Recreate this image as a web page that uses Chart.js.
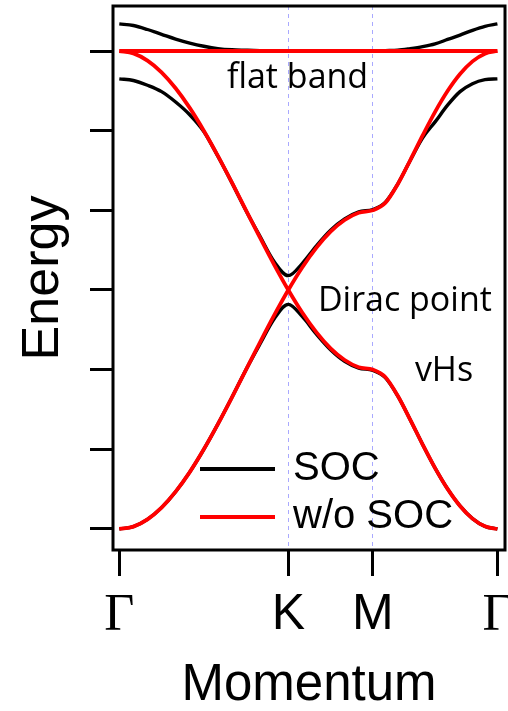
<!DOCTYPE html>
<html>
<head>
<meta charset="utf-8">
<script src="https://cdn.jsdelivr.net/npm/chart.js@4/dist/chart.umd.min.js"></script>
<style>
  html, body { margin: 0; padding: 0; background: #fff; }
  canvas { display: block; }
</style>
</head>
<body>
<canvas id="bands" width="508" height="711"></canvas>
<script>
// momentum along the path G-K-M-G (K at 1, M at 1.5)
const kPath = [
  0, 0.0833, 0.1667, 0.25, 0.3333, 0.4167, 0.5, 0.5833, 0.6667, 0.75, 0.8333, 0.9167, 1,
  1.0833, 1.1667, 1.25, 1.3333, 1.4167, 1.5,
  1.5737, 1.6475, 1.7212, 1.7949, 1.8686, 1.9424, 2.0161, 2.0898, 2.1635, 2.2373
];
const kTicks = [0, 1, 1.5, 2.2373];
const kLabels = ['Γ', 'K', 'M', 'Γ'];
const energyTicks = [-4, -3, -2, -1, 0, 1, 2];

// bands without SOC (two crossing branches + flat band)
const bandA = [
  2.000, 1.970, 1.879, 1.732, 1.532, 1.286, 1.000, 0.684, 0.347, 0.000, -0.347, -0.684, -1.000,
  -1.286, -1.532, -1.732, -1.879, -1.970, -2.000,
  -2.093, -2.328, -2.628, -2.940, -3.236, -3.497, -3.711, -3.870, -3.967, -4.000
];
const bandB = [
  -4.000, -3.970, -3.879, -3.732, -3.532, -3.286, -3.000, -2.684, -2.347, -2.000, -1.653, -1.316, -1.000,
  -0.714, -0.468, -0.268, -0.121, -0.030, 0.000,
  0.093, 0.328, 0.628, 0.940, 1.236, 1.497, 1.711, 1.870, 1.967, 2.000
];
const flatK = [0, 2.2373];
const flatBand = [2, 2];

// bands with SOC
const socTop = [
  2.34, 2.32, 2.27, 2.21, 2.15, 2.10, 2.06, 2.03, 2.015, 2.01, 2.005, 2.0, 2.0,
  2.0, 2.0, 2.0, 2.0, 2.0, 2.0,
  2.005, 2.01, 2.03, 2.055, 2.09, 2.145, 2.20, 2.26, 2.31, 2.34
];
const socMid = [
  1.65, 1.63, 1.57, 1.49, 1.36, 1.20, 0.99, 0.68, 0.345, -0.005, -0.33, -0.645, -0.82,
  -0.665, -0.445, -0.25, -0.108, -0.02, 0.01,
  0.10, 0.33, 0.625, 0.91, 1.11, 1.32, 1.49, 1.59, 1.64, 1.65
];
const socBot = [
  -4.00, -3.97, -3.879, -3.732, -3.532, -3.286, -3.00, -2.684, -2.347, -2.00, -1.675, -1.36, -1.18,
  -1.335, -1.555, -1.75, -1.895, -1.98, -2.01,
  -2.10, -2.33, -2.628, -2.94, -3.236, -3.497, -3.711, -3.87, -3.967, -4.00
];

const seriesNames = ['SOC', 'w/o SOC'];
const seriesColors = ['#000000', '#ff0000'];

// text notes placed in data coordinates (left edge, baseline)
const noteText = ['flat band', 'Dirac point', 'vHs'];
const noteK = [0.637, 1.175, 1.749];
const noteE = [1.536, -1.264, -2.148];

const SANS = '"Liberation Sans", Arial, sans-serif';

function pts(xs, ys) {
  return xs.map((x, i) => ({x: x, y: ys[i]}));
}

function band(xs, ys, color) {
  return {
    data: pts(xs, ys),
    borderColor: color,
    borderWidth: color === '#ff0000' ? 3.8 : 3.4,
    pointRadius: 0,
    cubicInterpolationMode: 'monotone',
    fill: false
  };
}

const overlay = {
  id: 'overlay',
  afterDatasetsDraw(chart) {
    const {ctx, chartArea: a, scales: {x, y}} = chart;
    ctx.save();

    // frame
    ctx.lineWidth = 3;
    ctx.strokeStyle = '#000';
    ctx.strokeRect(a.left, a.top, a.right - a.left, a.bottom - a.top);

    // legend
    ctx.font = '40px ' + SANS;
    ctx.textBaseline = 'middle';
    ctx.textAlign = 'left';
    seriesNames.forEach((name, i) => {
      const ly = a.top + 463 + i * 48;
      ctx.strokeStyle = seriesColors[i];
      ctx.lineWidth = 4;
      ctx.beginPath();
      ctx.moveTo(a.left + 87, ly);
      ctx.lineTo(a.left + 162, ly);
      ctx.stroke();
      ctx.fillStyle = '#000';
      ctx.fillText(name, a.left + 180, ly);
    });

    // notes
    ctx.font = '34px "Open Sans", "Noto Sans", sans-serif';
    ctx.textBaseline = 'alphabetic';
    noteText.forEach((t, i) => {
      ctx.fillText(t, x.getPixelForValue(noteK[i]), y.getPixelForValue(noteE[i]));
    });

    ctx.restore();
  }
};

new Chart(document.getElementById('bands').getContext('2d'), {
  type: 'line',
  data: {
    datasets: [
      band(kPath, bandA, '#ff0000'),
      band(kPath, bandB, '#ff0000'),
      band(flatK, flatBand, '#ff0000'),
      band(kPath, socTop, '#000000'),
      band(kPath, socMid, '#000000'),
      band(kPath, socBot, '#000000')
    ]
  },
  options: {
    responsive: false,
    animation: false,
    events: [],
    layout: {padding: {top: 6, right: 3, left: 0, bottom: 0}},
    plugins: {
      legend: {display: false},
      tooltip: {enabled: false}
    },
    scales: {
      x: {
        type: 'linear',
        min: -0.0373,
        max: 2.2822,
        afterBuildTicks: s => { s.ticks = kTicks.map(v => ({value: v})); },
        afterFit: s => {
          s.height = 161;
          // let the end labels run past the plot edge
          s.paddingLeft = 0;
          s.paddingRight = 0;
        },
        ticks: {
          autoSkip: false,
          maxRotation: 0,
          padding: 9,
          color: '#000',
          callback: (v, i) => kLabels[i],
          font: c => kLabels[c.index] === 'Γ'
            ? {family: '"Liberation Serif", "Times New Roman", serif', size: 52}
            : {family: SANS, size: 50}
        },
        grid: {
          drawOnChartArea: true,
          color: c => (c.index === 1 || c.index === 2) ? 'rgba(140,140,255,0.75)' : 'rgba(0,0,0,0)',
          lineWidth: 1,
          tickLength: 26,
          tickWidth: 3,
          tickColor: '#000'
        },
        border: {display: false, dash: [4, 4]},
        title: {
          display: true,
          text: 'Momentum',
          color: '#000',
          font: {family: SANS, size: 51, lineHeight: 1},
          padding: {top: 0, bottom: 0}
        }
      },
      y: {
        type: 'linear',
        min: -4.264,
        max: 2.565,
        afterBuildTicks: s => { s.ticks = energyTicks.map(v => ({value: v})); },
        afterFit: s => {
          s.width = 113;
          s.paddingTop = 0;
          s.paddingBottom = 0;
        },
        ticks: {display: false},
        grid: {
          drawOnChartArea: false,
          tickLength: 23,
          lineWidth: 3,
          tickWidth: 3,
          tickColor: '#000'
        },
        border: {display: false},
        title: {
          display: true,
          text: 'Energy',
          color: '#000',
          font: {family: SANS, size: 52, lineHeight: 1},
          padding: {top: 18, bottom: 0}
        }
      }
    }
  },
  plugins: [overlay]
});
</script>
</body>
</html>
